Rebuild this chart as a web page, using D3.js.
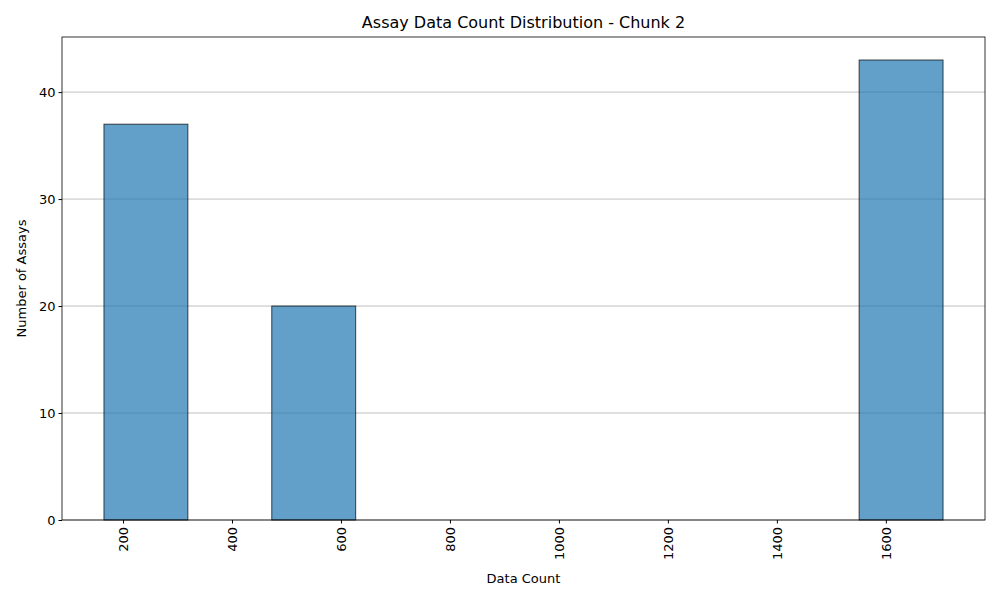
<!DOCTYPE html>
<html><head><meta charset="utf-8">
<script src="https://cdn.jsdelivr.net/npm/d3@7"></script>
<style>body{margin:0;background:#fff}text{font-family:"DejaVu Sans",sans-serif}</style>
</head><body>
<svg id="chart" width="1000" height="600"></svg>
<script>
const bin_edges = [165, 319, 473, 627, 781, 935, 1089, 1243, 1397, 1551, 1705]
const bin_counts = [37, 0, 20, 0, 0, 0, 0, 0, 0, 43]
const x_ticks = [200, 400, 600, 800, 1000, 1200, 1400, 1600]
const y_ticks = [0, 10, 20, 30, 40]

const m = { left: 62, right: 985, top: 37, bottom: 520 }
const svg = d3.select('#chart')

const span = bin_edges[bin_edges.length - 1] - bin_edges[0]
const x = d3.scaleLinear()
  .domain([bin_edges[0] - span * 0.05, bin_edges[bin_edges.length - 1] + span * 0.05])
  .range([m.left, m.right])
const y = d3.scaleLinear().domain([0, d3.max(bin_counts) * 1.05]).range([m.bottom, m.top])

// grid
svg.append('g').selectAll('line').data(y_ticks).enter().append('line')
  .attr('x1', m.left).attr('x2', m.right)
  .attr('y1', d => y(d)).attr('y2', d => y(d))
  .attr('stroke', '#b0b0b0').attr('stroke-width', 0.8)

// bars
svg.append('g').selectAll('rect').data(bin_counts).enter().append('rect')
  .attr('x', (d, i) => x(bin_edges[i]))
  .attr('width', (d, i) => x(bin_edges[i + 1]) - x(bin_edges[i]))
  .attr('y', d => y(d))
  .attr('height', d => m.bottom - y(d))
  .attr('fill', '#1f77b4').attr('fill-opacity', 0.7)
  .attr('stroke', 'rgba(0,0,0,0.7)').attr('stroke-width', 1)

// frame
svg.append('rect').attr('x', m.left).attr('y', m.top)
  .attr('width', m.right - m.left).attr('height', m.bottom - m.top)
  .attr('fill', 'none').attr('stroke', '#000').attr('stroke-width', 0.8)

// x axis
const xa = svg.append('g').attr('transform', `translate(0,${m.bottom})`)
  .call(d3.axisBottom(x).tickValues(x_ticks).tickSize(3.5).tickSizeOuter(0).tickFormat(d3.format('d')))
xa.select('.domain').remove()
xa.selectAll('text').attr('font-size', 13).attr('fill', '#000')
  .attr('transform', 'rotate(-90)').attr('text-anchor', 'end')
  .attr('x', -7).attr('y', 0).attr('dy', '0.35em')

// y axis
const ya = svg.append('g').attr('transform', `translate(${m.left},0)`)
  .call(d3.axisLeft(y).tickValues(y_ticks).tickSize(3.5))
ya.select('.domain').remove()
ya.selectAll('text').attr('font-size', 13).attr('fill', '#000')

svg.append('text').attr('x', (m.left + m.right) / 2).attr('y', 583)
  .attr('text-anchor', 'middle').attr('font-size', 13).text('Data Count')
svg.append('text').attr('transform', `translate(26,${(m.top + m.bottom) / 2}) rotate(-90)`)
  .attr('text-anchor', 'middle').attr('font-size', 13).text('Number of Assays')
svg.append('text').attr('x', (m.left + m.right) / 2).attr('y', 28)
  .attr('text-anchor', 'middle').attr('font-size', 16).text('Assay Data Count Distribution - Chunk 2')
</script>
</body></html>
